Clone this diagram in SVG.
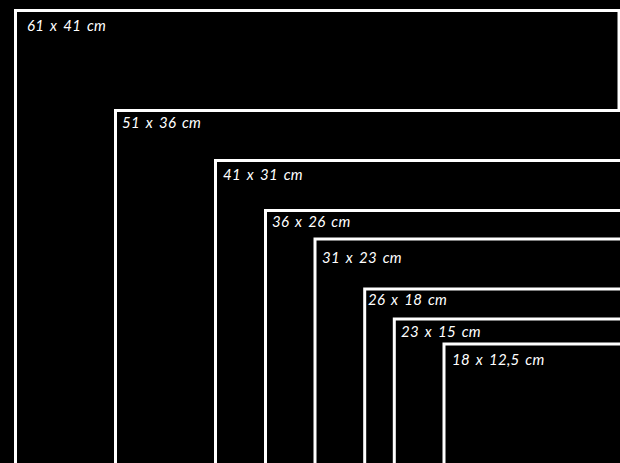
<svg xmlns="http://www.w3.org/2000/svg" width="620" height="463" viewBox="0 0 620 463">
<style>
.fr{fill:#000;stroke:#fff;stroke-width:3}
.lb{fill:#fff;font-family:Lato,"Open Sans","DejaVu Sans",sans-serif;font-style:italic;font-size:15px;letter-spacing:0.3px;word-spacing:2px}
</style>
<rect x="0" y="0" width="620" height="463" fill="#000"/>
<g id="f61"><rect class="fr" x="15.5" y="10.5" width="603.5" height="500"/><text class="lb" x="27" y="31">61 x 41 cm</text></g>
<g id="f51"><rect class="fr" x="115.5" y="110.5" width="540" height="500"/><text class="lb" x="122" y="128">51 x 36 cm</text></g>
<g id="f41"><rect class="fr" x="215.5" y="160.5" width="440" height="500"/><text class="lb" x="223" y="180">41 x 31 cm</text></g>
<g id="f36"><rect class="fr" x="265.5" y="210.5" width="400" height="500"/><text class="lb" x="272" y="227">36 x 26 cm</text></g>
<g id="f31"><rect class="fr" x="315" y="239" width="400" height="500"/><text class="lb" x="322" y="263">31 x 23 cm</text></g>
<g id="f26"><rect class="fr" x="364.7" y="289" width="400" height="500"/><text class="lb" x="368" y="305">26 x 18 cm</text></g>
<g id="f23"><rect class="fr" x="394.3" y="319" width="400" height="500"/><text class="lb" x="401" y="337">23 x 15 cm</text></g>
<g id="f18"><rect class="fr" x="444" y="344" width="400" height="500"/><text class="lb" x="452" y="365">18 x 12,5 cm</text></g>
</svg>
